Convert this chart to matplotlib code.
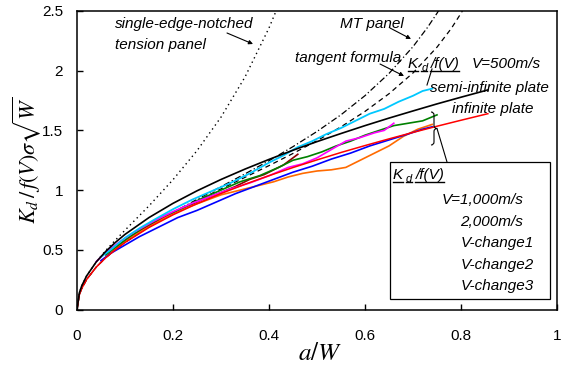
import matplotlib
matplotlib.use('Agg')
import matplotlib.pyplot as plt
from matplotlib.lines import Line2D
from matplotlib.patches import Rectangle, PathPatch
from matplotlib.path import Path
from matplotlib.transforms import IdentityTransform

plt.rcParams['mathtext.fontset'] = 'stix'
SANS = 'Liberation Sans'

# theoretical curves, K_d/(f(V) sigma sqrt(W)) vs a/W
a_th = [0, 0.005, 0.01, 0.02, 0.04, 0.06, 0.08, 0.1, 0.15, 0.2, 0.25, 0.3,
        0.35, 0.4, 0.45, 0.5, 0.55, 0.6, 0.65, 0.7, 0.75, 0.8, 0.856]
k_inf = [0, 0.125, 0.177, 0.251, 0.355, 0.434, 0.501, 0.561, 0.687, 0.793, 0.886, 0.971,
         1.049, 1.121, 1.189, 1.253, 1.315, 1.373, 1.429, 1.483, 1.535, 1.585, 1.640]
k_semi = [0, 0.141, 0.199, 0.281, 0.398, 0.487, 0.562, 0.629, 0.770, 0.889, 0.994, 1.089,
          1.176, 1.257, 1.334, 1.406, 1.474, 1.540, 1.603, 1.663, 1.722, 1.778, 1.839]

a_sent = [0, 0.005, 0.01, 0.02, 0.04, 0.06, 0.08, 0.1, 0.15, 0.2, 0.25, 0.3, 0.35, 0.4, 0.42]
k_sent = [0, 0.140, 0.198, 0.281, 0.399, 0.495, 0.581, 0.664, 0.868, 1.087, 1.330, 1.611,
          1.947, 2.358, 2.551]

a_tan = [0, 0.005, 0.01, 0.02, 0.04, 0.06, 0.08, 0.1, 0.15, 0.2, 0.25, 0.3, 0.35, 0.4,
         0.45, 0.5, 0.55, 0.6, 0.65, 0.7, 0.75, 0.78, 0.8, 0.81]
k_tan = [0, 0.125, 0.177, 0.251, 0.355, 0.435, 0.503, 0.563, 0.693, 0.806, 0.910, 1.010,
         1.107, 1.205, 1.307, 1.414, 1.530, 1.659, 1.807, 1.981, 2.197, 2.355, 2.481, 2.550]

a_mt = [0, 0.005, 0.01, 0.02, 0.04, 0.06, 0.08, 0.1, 0.15, 0.2, 0.25, 0.3, 0.35, 0.4,
        0.45, 0.5, 0.55, 0.6, 0.65, 0.7, 0.73, 0.75, 0.76]
k_mt = [0, 0.125, 0.177, 0.251, 0.355, 0.435, 0.503, 0.564, 0.696, 0.813, 0.922, 1.029,
        1.136, 1.246, 1.364, 1.491, 1.631, 1.791, 1.977, 2.201, 2.361, 2.481, 2.547]

# measured curves
a_v500 = [0.05, 0.07, 0.1, 0.13, 0.16, 0.2, 0.24, 0.28, 0.32, 0.36, 0.4, 0.43, 0.46,
          0.49, 0.52, 0.55, 0.58, 0.61, 0.64, 0.67, 0.7, 0.72, 0.74]
k_v500 = [0.44, 0.50, 0.60, 0.68, 0.75, 0.84, 0.92, 0.99, 1.06, 1.14, 1.23, 1.29, 1.36,
          1.41, 1.47, 1.52, 1.58, 1.64, 1.68, 1.74, 1.79, 1.83, 1.85]

a_v1000 = [0.06, 0.08, 0.11, 0.14, 0.18, 0.22, 0.26, 0.3, 0.33, 0.36, 0.39, 0.41, 0.43, 0.45, 0.46]
k_v1000 = [0.46, 0.52, 0.61, 0.68, 0.77, 0.84, 0.92, 0.98, 1.03, 1.09, 1.13, 1.17, 1.21, 1.27, 1.30]

a_v2000 = [0.06, 0.08, 0.11, 0.14, 0.18, 0.22, 0.26, 0.3, 0.34, 0.38, 0.42, 0.45, 0.48,
           0.51, 0.54, 0.57, 0.6, 0.63, 0.66, 0.69, 0.72, 0.75]
k_v2000 = [0.46, 0.52, 0.61, 0.69, 0.78, 0.85, 0.93, 1.00, 1.07, 1.12, 1.19, 1.25, 1.28,
           1.32, 1.37, 1.41, 1.46, 1.50, 1.54, 1.56, 1.58, 1.63]

a_ch1 = [0.04, 0.06, 0.09, 0.12, 0.16, 0.2, 0.24, 0.28, 0.32, 0.36, 0.4, 0.44, 0.47,
         0.5, 0.53, 0.56, 0.59, 0.62, 0.64, 0.66]
k_ch1 = [0.40, 0.48, 0.57, 0.65, 0.74, 0.82, 0.89, 0.95, 1.01, 1.06, 1.12, 1.19, 1.22,
         1.27, 1.34, 1.41, 1.44, 1.48, 1.50, 1.56]

a_ch2 = [0.05, 0.07, 0.1, 0.13, 0.17, 0.21, 0.25, 0.29, 0.33, 0.37, 0.41, 0.45, 0.49,
         0.53, 0.57, 0.61, 0.65, 0.69, 0.72, 0.74]
k_ch2 = [0.41, 0.47, 0.54, 0.61, 0.69, 0.77, 0.83, 0.90, 0.97, 1.03, 1.09, 1.15, 1.20,
         1.26, 1.31, 1.37, 1.42, 1.47, 1.51, 1.53]

a_ch3 = [0.06, 0.08, 0.11, 0.14, 0.18, 0.22, 0.26, 0.3, 0.34, 0.38, 0.41, 0.44, 0.47,
         0.5, 0.53, 0.56, 0.59, 0.62, 0.65, 0.68, 0.71, 0.74]
k_ch3 = [0.46, 0.51, 0.60, 0.67, 0.76, 0.84, 0.90, 0.96, 1.00, 1.04, 1.07, 1.11, 1.14,
         1.16, 1.17, 1.19, 1.25, 1.31, 1.37, 1.45, 1.51, 1.55]

x_ticks = [0, 0.2, 0.4, 0.6, 0.8, 1]
x_labels = ['0', '0.2', '0.4', '0.6', '0.8', '1']
y_ticks = [0, 0.5, 1, 1.5, 2, 2.5]
y_labels = ['0', '0.5', '1', '1.5', '2', '2.5']

W, H = 565, 369
fig = plt.figure(figsize=(W / 100, H / 100), dpi=100)
ax = fig.add_axes([77 / W, 1 - 309.5 / H, 480 / W, 298.5 / H])

ax.plot(a_sent, k_sent, color='k', lw=1, linestyle=(0, (1, 2.5)))
ax.plot(a_mt, k_mt, color='k', lw=0.9, linestyle=(0, (5, 2, 1, 2)))
ax.plot(a_tan, k_tan, color='k', lw=0.9, linestyle=(0, (4, 3)))

ax.plot(a_v1000, k_v1000, color='#8b0000', lw=1.2)
ax.plot(a_ch3, k_ch3, color='#ff6a00', lw=1.2)
ax.plot(a_ch2, k_ch2, color='#0000ff', lw=1.2)
ax.plot(a_v2000, k_v2000, color='#008000', lw=1.2)
ax.plot(a_ch1, k_ch1, color='#ff00ff', lw=1.2)
ax.plot(a_v500, k_v500, color='#00c8ff', lw=1.3)
ax.plot(a_th, k_inf, color='#ff0000', lw=1.1)
ax.plot(a_th, k_semi, color='k', lw=1.2)

ax.set_xlim(0, 1)
ax.set_ylim(0, 2.5)
ax.set_xticks(x_ticks)
ax.set_xticklabels(x_labels, fontsize=11, family=SANS)
ax.set_yticks(y_ticks)
ax.set_yticklabels(y_labels, fontsize=11, family=SANS)
ax.tick_params(axis='x', direction='in', length=4, width=1, pad=14)
ax.tick_params(axis='y', direction='in', length=4, width=1, pad=10)
for s in ax.spines.values():
    s.set_linewidth(1.1)

ax.set_xlabel(r'$a/W$', fontsize=18)
ax.xaxis.set_label_coords((320 - 77) / 480, (309.5 - 353) / 298.5)
ax.xaxis.label.set_va('center')
ax.set_ylabel(r'$K_d\,/\,f(V)\sigma\sqrt{W}$', fontsize=16)
ax.yaxis.set_label_coords((27 - 77) / 480, 0.5)
ax.yaxis.label.set_va('center')


def txt(x, y, s, size=11):
    # x, y: pixel position of the text baseline start, measured from top-left
    return fig.text(x / W, (H - y) / H, s, fontsize=size, style='italic',
                    family=SANS, va='baseline', ha='left')


def arrow(x0, y0, x1, y1):
    ax.annotate('', xy=(x1, H - y1), xycoords='figure pixels',
                xytext=(x0, H - y0), textcoords='figure pixels',
                arrowprops=dict(arrowstyle='-|>', lw=0.8, color='k',
                                mutation_scale=6, shrinkA=0, shrinkB=0))


def seg(x0, y0, x1, y1, lw=0.8):
    fig.add_artist(Line2D([x0 / W, x1 / W], [(H - y0) / H, (H - y1) / H],
                          color='k', lw=lw))


txt(115, 28, 'single-edge-notched')
txt(115, 49, 'tension panel')
arrow(227, 33, 253, 44)
txt(340, 28, 'MT panel')
arrow(390, 28, 411, 39)
txt(295, 62, 'tangent formula')
arrow(380, 64, 404, 76)
txt(430, 92, 'semi-infinite plate')
txt(452, 113, 'infinite plate')
seg(432, 69, 427, 85)

# box with the rest of the velocity cases
fig.add_artist(Rectangle((390, H - 299), 160, 137, transform=IdentityTransform(),
                         facecolor='white', edgecolor='k', lw=0.9, zorder=5))
for s, x, y in [('V=1,000m/s', 442, 204), ('2,000m/s', 460, 226), ('V-change1', 461, 247),
                ('V-change2', 461, 269), ('V-change3', 461, 290)]:
    txt(x, y, s).set_zorder(6)

# curly brace and its leader to the box
bx, top, bot = 431, 112, 145
mid = (top + bot) / 2
verts = [(bx, top), (bx + 3, top), (bx + 3, top + 3),
         (bx + 3, mid - 3), (bx + 3, mid), (bx + 6, mid),
         (bx + 3, mid), (bx + 3, mid + 3),
         (bx + 3, bot - 3), (bx + 3, bot), (bx, bot)]
codes = [Path.MOVETO, Path.CURVE3, Path.CURVE3, Path.LINETO, Path.CURVE3, Path.CURVE3,
         Path.CURVE3, Path.CURVE3, Path.LINETO, Path.CURVE3, Path.CURVE3]
verts = [(x, H - y) for x, y in verts]
fig.add_artist(PathPatch(Path(verts, codes), transform=IdentityTransform(),
                         fill=False, lw=0.8, edgecolor='k'))
seg(bx + 6, mid, 447, 162)

fig.canvas.draw()
renderer = fig.canvas.get_renderer()


def underlined(x, y, pieces, zorder=6):
    for s, fs, dy in pieces:
        t = txt(x, y + dy, s, fs)
        t.set_zorder(zorder)
        bb = t.get_window_extent(renderer)
        ul = H - y - 3
        fig.add_artist(Line2D([bb.x0 / W, bb.x1 / W], [ul / H, ul / H], color='k',
                              lw=1, zorder=zorder))
        x = bb.x1 + 3


kd_parts = [('K', 11, 0), ('d', 8, 3), ('/f(V)', 11, 0)]
underlined(408, 68, kd_parts)
txt(472, 68, 'V=500m/s')
underlined(393, 179, kd_parts)

fig.savefig('out.png', dpi=100)
